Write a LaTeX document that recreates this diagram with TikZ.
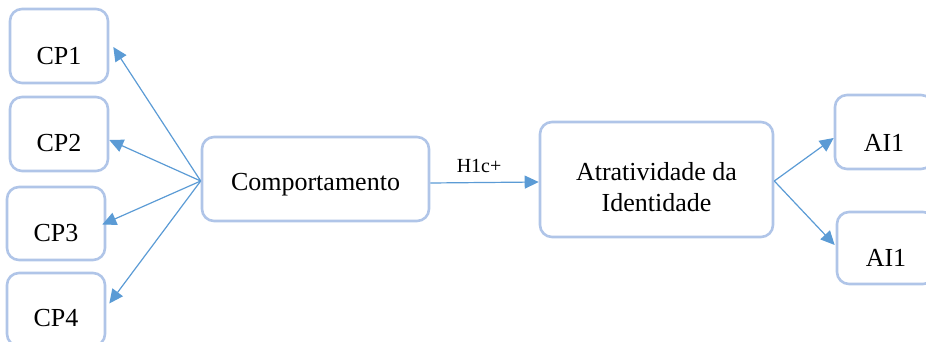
\documentclass[tikz,border=0pt]{standalone}
\usepackage{fontspec}
\setmainfont{Liberation Serif}
\usetikzlibrary{arrows.meta}
\definecolor{boxline}{HTML}{B0C5E8}
\definecolor{arrowline}{HTML}{5B9BD5}
\begin{document}
\begin{tikzpicture}[x=1pt,y=-1pt,
  box/.style={draw=boxline, line width=2.6pt, rounded corners=12pt, fill=white,
    inner sep=0pt, minimum width=98pt, minimum height=74pt},
  txt/.style={inner sep=0pt, font=\fontsize{26}{31}\selectfont, align=center},
  lbl/.style={inner sep=0pt, font=\fontsize{20}{24}\selectfont},
  link/.style={draw=arrowline, line width=1.2pt,
    -{Triangle[length=14pt,width=13pt]}}]
\useasboundingbox (0,0) rectangle (926,342);
\clip (0,0) rectangle (926,342);

% indicator boxes on the left
\node[box] (cp1) at (59,46) {};
\node[box] (cp2) at (59,134) {};
\node[box, minimum height=73pt] (cp3) at (56,223.5) {};
\node[box, minimum height=73pt] (cp4) at (56,309.5) {};
\node[txt] (cp1t) at ([shift={(0,10.5)}]cp1.center) {CP1};
\node[txt] (cp2t) at ([shift={(0,9)}]cp2.center) {CP2};
\node[txt] (cp3t) at ([shift={(0,9.5)}]cp3.center) {CP3};
\node[txt] (cp4t) at ([shift={(0,8.5)}]cp4.center) {CP4};

% constructs
\node[box, minimum width=227pt, minimum height=84pt] (comp) at (315.5,179) {};
\node[txt] (compt) at ([shift={(0,6)}]comp.center) {Comportamento};
\node[box, minimum width=233pt, minimum height=115pt] (atr) at (656.5,179.5) {};
\node[txt] (atrt) at ([shift={(0,8)}]atr.center) {Atratividade da\\Identidade};

% indicator boxes on the right
\node[box] (ai1) at (884,132) {};
\node[box, minimum height=72pt] (ai2) at (886,248) {};
\node[txt] (ai1t) at ([shift={(0,11)}]ai1.center) {AI1};
\node[txt] (ai2t) at ([shift={(0,10)}]ai2.center) {AI1};

% connectors
\coordinate (src) at ([shift={(0,2)}]comp.west);
\draw[link] (src) -- ([shift={(4,1)}]cp1.east);
\draw[link] (src) -- ([shift={(0,6)}]cp2.east);
\draw[link] (src) -- ([shift={(-4,1)}]cp3.east);
\draw[link] (src) -- ([shift={(3,-6)}]cp4.east);

\draw[link] ([shift={(0,4)}]comp.east) -- ([shift={(0,2.5)}]atr.west)
  node[lbl, pos=0.45, above=9pt] (h1c) {H1c+};

\coordinate (src2) at ([shift={(0,1.5)}]atr.east);
\draw[link] (src2) -- ([shift={(0,6)}]ai1.west);
\draw[link] (src2) -- ([shift={(-1,-3)}]ai2.west);
\end{tikzpicture}
\end{document}
